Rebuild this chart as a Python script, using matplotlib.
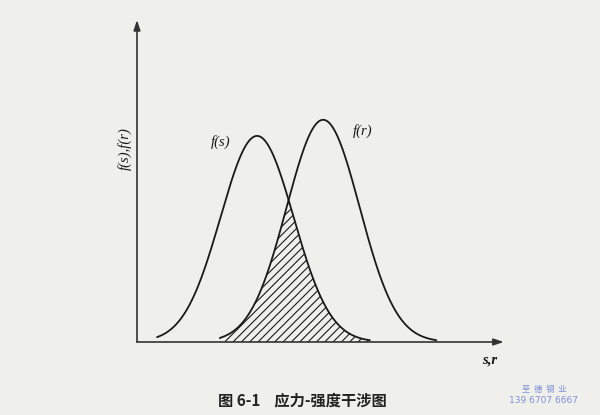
import numpy as np
import matplotlib
matplotlib.use('Agg')
import matplotlib.pyplot as plt

plt.rcParams['font.family'] = ['Noto Sans CJK SC', 'DejaVu Sans']
plt.rcParams['hatch.linewidth'] = 0.8

# Distribution parameters (stress s, strength r)
series_labels = ['f(s)', 'f(r)']
means = [3.29, 5.10]
sigmas = [1.0, 1.0]
peaks = [0.64, 0.69]
x_start = [0.55, 2.27]
x_end = [6.38, 8.20]

caption = '图 6-1    应力-强度干涉图'
watermark = ['至  德  钢  业', '139 6707 6667']

bg = '#efefec'
ink = '#1a1a1a'

fig = plt.figure(figsize=(6.0, 4.15), dpi=100, facecolor=bg)
ax = fig.add_axes([0, 0, 1, 1])
ax.set_facecolor(bg)
ax.set_xlim(-3.753, 12.685)
ax.set_ylim(-0.2267, 1.062)
ax.axis('off')

def curve(i, x):
    return peaks[i] * np.exp(-(x - means[i]) ** 2 / (2 * sigmas[i] ** 2))

# curves
for i in range(2):
    x = np.linspace(x_start[i], x_end[i], 400)
    ax.plot(x, curve(i, x), color=ink, lw=1.3, solid_capstyle='round')

# interference region (hatched)
xs = np.linspace(x_start[1], x_end[0], 400)
ys = np.minimum(curve(0, xs), curve(1, xs))
ax.fill_between(xs, 0, ys, facecolor='none', edgecolor=ink, hatch='////', linewidth=0)

# axes with arrows
ax.annotate('', xy=(0, 1.0), xytext=(0, 0),
            arrowprops=dict(arrowstyle='-|>,head_length=0.6,head_width=0.2', color='#333333', lw=1.2,
                            shrinkA=0, shrinkB=0))
ax.annotate('', xy=(10.05, 0), xytext=(0, 0),
            arrowprops=dict(arrowstyle='-|>,head_length=0.6,head_width=0.2', color='#333333', lw=1.2,
                            shrinkA=0, shrinkB=0))

serif = dict(family='Liberation Serif', style='italic')
ax.text(-0.33, 0.60, 'f(s),f(r)', rotation=90, ha='center', va='center', fontsize=10.5, color=ink, **serif)
ax.text(2.3, 0.62, series_labels[0], ha='center', va='center', fontsize=10.5, color=ink, **serif)
ax.text(6.18, 0.655, series_labels[1], ha='center', va='center', fontsize=10.5, color=ink, **serif)
ax.text(9.65, -0.055, 's,r', ha='center', va='center', fontsize=10.5, color=ink, fontweight='bold', **serif)

# caption
ax.text(2.22, -0.18, caption, ha='left', va='center', fontsize=11,
        fontweight='bold', color='#222222')

# watermark
ax.text(11.15, -0.148, watermark[0], ha='center', va='center', fontsize=6, color='#7f8fd8')
ax.text(11.15, -0.183, watermark[1], ha='center', va='center', fontsize=6.5, color='#7f8fd8',
        family='DejaVu Sans')

fig.savefig('out.png', dpi=100, facecolor=bg)
